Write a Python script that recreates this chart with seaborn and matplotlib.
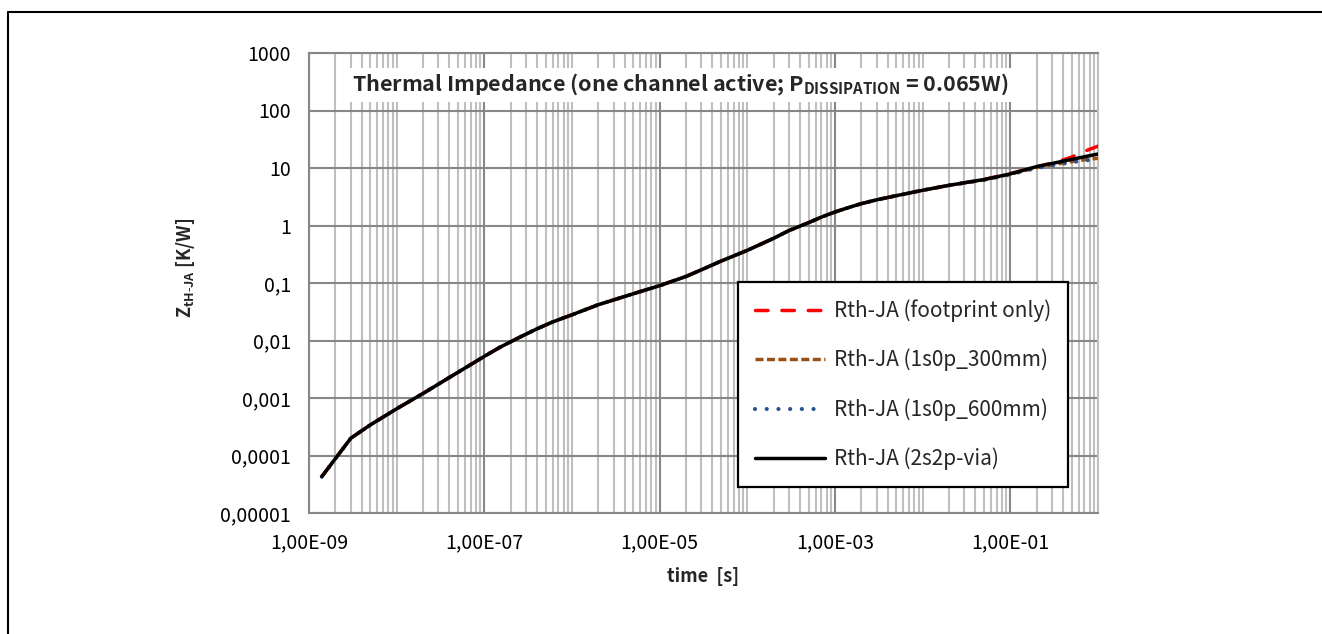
import numpy as np
import pandas as pd
import matplotlib
matplotlib.use("Agg")
import matplotlib.pyplot as plt
import matplotlib.ticker as mticker
from matplotlib.lines import Line2D
import seaborn as sns

# time points [s]
time_s = [1.4e-9, 3e-9, 5e-9, 1e-8, 2e-8, 5e-8, 1e-7, 1.5e-7, 2.5e-7, 4e-7, 6e-7,
          1e-6, 2e-6, 5e-6, 1e-5, 2e-5, 3e-5, 5e-5, 1e-4, 2e-4, 3e-4, 5e-4, 7e-4,
          1e-3, 1.5e-3, 2e-3, 3e-3, 5e-3, 1e-2, 2e-2, 5e-2, 0.1, 0.2, 0.35, 0.5, 0.7, 1.0]

# Z_th-JA [K/W] for each board
z_footprint = [4.3e-5, 2.0e-4, 3.4e-4, 6.5e-4, 1.2e-3, 2.8e-3, 5.3e-3, 7.6e-3, 0.0113, 0.0160, 0.0210,
               0.028, 0.042, 0.065, 0.090, 0.13, 0.17, 0.24, 0.37, 0.60, 0.82, 1.12, 1.4,
               1.72, 2.1, 2.4, 2.8, 3.3, 4.1, 5.0, 6.3, 8.0, 10.5, 12.9, 15.5, 19.5, 24.0]
z_1s0p_300 = [4.3e-5, 2.0e-4, 3.4e-4, 6.5e-4, 1.2e-3, 2.8e-3, 5.3e-3, 7.6e-3, 0.0113, 0.0160, 0.0210,
              0.028, 0.042, 0.065, 0.090, 0.13, 0.17, 0.24, 0.37, 0.60, 0.82, 1.12, 1.4,
              1.72, 2.1, 2.4, 2.8, 3.3, 4.1, 5.0, 6.2, 7.8, 10.2, 11.8, 12.9, 13.9, 14.8]
z_1s0p_600 = [4.3e-5, 2.0e-4, 3.4e-4, 6.5e-4, 1.2e-3, 2.8e-3, 5.3e-3, 7.6e-3, 0.0113, 0.0160, 0.0210,
              0.028, 0.042, 0.065, 0.090, 0.13, 0.17, 0.24, 0.37, 0.60, 0.82, 1.12, 1.4,
              1.72, 2.1, 2.4, 2.8, 3.3, 4.1, 5.0, 6.2, 7.7, 10.0, 11.5, 12.6, 13.5, 14.2]
z_2s2p_via = [4.3e-5, 2.0e-4, 3.4e-4, 6.5e-4, 1.2e-3, 2.8e-3, 5.3e-3, 7.6e-3, 0.0113, 0.0160, 0.0210,
              0.028, 0.042, 0.065, 0.090, 0.13, 0.17, 0.24, 0.37, 0.60, 0.82, 1.12, 1.4,
              1.72, 2.1, 2.4, 2.8, 3.3, 4.1, 5.0, 6.3, 7.9, 10.6, 12.6, 14.1, 15.7, 17.5]

series_labels = ["Rth-JA (footprint only)", "Rth-JA (1s0p_300mm)",
                 "Rth-JA (1s0p_600mm)", "Rth-JA (2s2p-via)"]

y_tick_vals = [1e-5, 1e-4, 1e-3, 1e-2, 1e-1, 1, 10, 100, 1000]
y_tick_labels = ["0,00001", "0,0001", "0,001", "0,01", "0,1", "1", "10", "100", "1000"]
x_tick_vals = [1e-9, 1e-7, 1e-5, 1e-3, 1e-1]
x_tick_labels = ["1,00E-09", "1,00E-07", "1,00E-05", "1,00E-03", "1,00E-01"]


def main():
    sns.set_style("white")
    plt.rcParams["font.family"] = ["Noto Sans CJK SC", "DejaVu Sans"]

    df = pd.DataFrame({"time": time_s})
    values = [z_footprint, z_1s0p_300, z_1s0p_600, z_2s2p_via]

    fig = plt.figure(figsize=(13.22, 6.34), dpi=100)
    ax = fig.add_axes([309 / 1322, 1 - 513 / 634, 789 / 1322, 460 / 634])

    styles = [
        dict(color="#ff0000", lw=2.5, linestyle=(0, (3.6, 4.0)), dash_capstyle="round"),
        dict(color="#9c4f13", lw=2.5, linestyle=(0, (2.3, 1.0)), dash_capstyle="butt"),
        dict(color="#2b5590", lw=3.0, linestyle=(0, (0.01, 2.8)), dash_capstyle="round"),
        dict(color="#000000", lw=2.5, linestyle="-", solid_capstyle="round"),
    ]
    for vals, lab, st in zip(values, series_labels, styles):
        d = df.copy()
        d["z"] = vals
        sns.lineplot(data=d, x="time", y="z", ax=ax, estimator=None,
                     errorbar=None, sort=True, label=lab, zorder=3, **st)

    ax.set_xscale("log")
    ax.set_yscale("log")
    ax.set_xlim(1e-9, 1.0)
    ax.set_ylim(1e-5, 1000)

    major_grey = "#878787"
    minor_grey = "#bfbfbf"

    # vertical minor grid at every k*10^n, major every two decades
    minor_x = [k * 10.0 ** e for e in range(-9, 0) for k in range(1, 10)
               if not (k == 1 and e in (-9, -7, -5, -3, -1))] + [1.0]
    ax.set_xticks(x_tick_vals)
    ax.set_xticklabels(x_tick_labels)
    ax.xaxis.set_minor_locator(mticker.FixedLocator(minor_x))
    ax.xaxis.set_minor_formatter(mticker.NullFormatter())
    ax.set_yticks(y_tick_vals)
    ax.set_yticklabels(y_tick_labels)
    ax.yaxis.set_minor_locator(mticker.NullLocator())

    ax.grid(True, which="major", axis="both", color=major_grey, lw=1.5, zorder=1)
    ax.grid(True, which="minor", axis="x", color=minor_grey, lw=1.5, zorder=0)
    ax.set_axisbelow(True)

    ax.tick_params(axis="both", which="major", direction="out", length=5,
                   width=1.5, color=major_grey, labelsize=14, labelcolor="black")
    ax.tick_params(axis="x", which="major", pad=9)
    ax.tick_params(axis="y", which="major", pad=8)
    ax.tick_params(axis="x", which="minor", length=0)

    for side in ["left", "bottom", "top"]:
        ax.spines[side].set_color(major_grey)
        ax.spines[side].set_linewidth(1.5)
    ax.spines["right"].set_color(minor_grey)
    ax.spines["right"].set_linewidth(1.5)

    ax.set_xlabel("time  [s]", fontsize=13, fontweight="bold", va="center")
    ax.xaxis.set_label_coords(0.5, -0.139)
    ax.set_ylabel(r"Z$_{\mathregular{tH\text{-}JA}}$ [K/W]", fontsize=13,
                  fontweight="bold", va="center")
    ax.yaxis.set_label_coords(-0.157, 0.533)

    ax.text(0.47, 0.930,
            r"Thermal Impedance (one channel active; P$_{\mathregular{DISSIPATION}}$ = 0.065W)",
            transform=ax.transAxes, ha="center", va="center", fontsize=15.5,
            fontweight="bold", zorder=4,
            bbox=dict(facecolor="white", edgecolor="none", pad=3))

    handles = [Line2D([0], [0], **st) for st in styles]
    leg = ax.legend(handles, series_labels, loc="lower right",
                    bbox_to_anchor=(0.962, 0.0565), borderaxespad=0,
                    fontsize=15, handlelength=3.37, handletextpad=0.43,
                    labelspacing=1.29, borderpad=0.8, frameon=True,
                    fancybox=False, framealpha=1)
    leg.get_frame().set_edgecolor("black")
    leg.get_frame().set_linewidth(1.6)
    leg.set_zorder(5)

    # outer chart border (top and left edges visible)
    fig.add_artist(Line2D([8 / 1322, 8 / 1322], [0, 1 - 12 / 634],
                          transform=fig.transFigure, color="black", lw=1.5))
    fig.add_artist(Line2D([8 / 1322, 1], [1 - 12 / 634, 1 - 12 / 634],
                          transform=fig.transFigure, color="black", lw=1.5))

    fig.savefig("out.png", dpi=100)


if __name__ == "__main__":
    main()
